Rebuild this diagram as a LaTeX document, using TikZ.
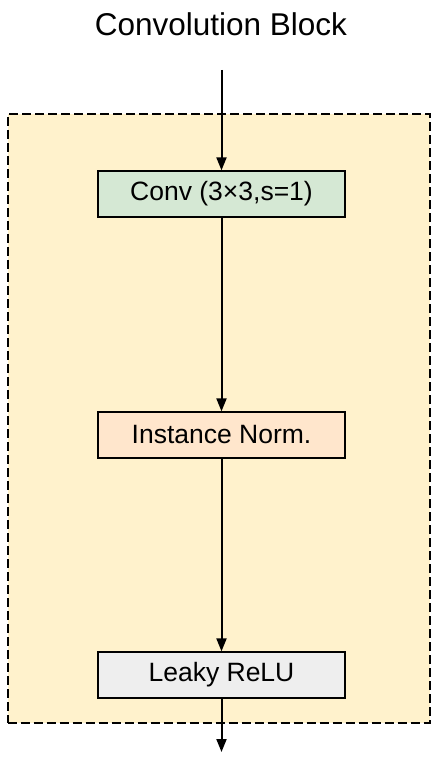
\documentclass[tikz,border=0pt]{standalone}
\usepackage{fontspec}
\setmainfont{Liberation Sans}
\usetikzlibrary{arrows.meta}
\definecolor{outerfill}{HTML}{FFF2CC}
\definecolor{convfill}{HTML}{D5E8D4}
\definecolor{normfill}{HTML}{FFE6CC}
\definecolor{relufill}{HTML}{EEEEEE}
\begin{document}
\begin{tikzpicture}[x=1pt,y=-1pt,
  layerbox/.style={draw=black,line width=1.3pt,minimum width=247pt,minimum height=46pt,inner sep=0pt,font=\fontsize{26.5}{30}\selectfont,anchor=center},
  flow/.style={line width=2pt,-{Triangle[width=10pt,length=13pt]}}]
\useasboundingbox (0,0) rectangle (436,759);
\node[font=\fontsize{31.5}{36}\selectfont] (title) at (221,24) {Convolution Block};
\node[draw=black,fill=outerfill,dash pattern=on 9pt off 4pt,line width=2pt,minimum width=422pt,minimum height=609pt,inner sep=0pt] (outer) at (218.5,418.5) {};
\node[layerbox,fill=convfill] (conv) at (221.5,194) {Conv (3×3,s=1)};
\node[layerbox,fill=normfill] (norm) at (221.5,435) {Instance Norm.};
\node[layerbox,fill=relufill] (relu) at (221.5,675) {Leaky ReLU};
\coordinate (in) at (221.5,70);
\coordinate (out) at (221.5,752);
\draw[flow] (in) -- (conv);
\draw[flow] (conv) -- (norm);
\draw[flow] (norm) -- (relu);
\draw[flow] (relu) -- (out);
\end{tikzpicture}
\end{document}
